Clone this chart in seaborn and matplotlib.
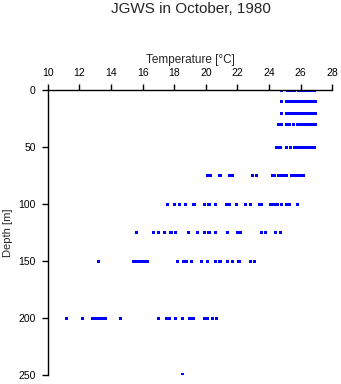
import matplotlib
matplotlib.use("Agg")
import matplotlib.pyplot as plt
import seaborn as sns
import pandas as pd

# Temperature [°C] readings at each depth [m]
depths = [0, 10, 20, 30, 50, 75, 100, 125, 150, 200, 250]
temp_0 = [24.78, 25.18, 25.39, 25.58, 25.85, 26.0, 26.15, 26.3, 26.45, 26.6, 26.75, 26.9]
temp_10 = [24.78, 25.1, 25.2, 25.4, 25.55, 25.75, 25.9, 26.05, 26.2, 26.35, 26.5, 26.65, 26.8, 26.95]
temp_20 = [24.78, 25.1, 25.25, 25.4, 25.5, 25.65, 25.8, 25.95, 26.1, 26.25, 26.4, 26.55, 26.7, 26.85, 26.95]
temp_30 = [24.6, 24.8, 25.1, 25.3, 25.55, 25.8, 25.95, 26.1, 26.25, 26.4, 26.55, 26.7, 26.85, 26.96]
temp_50 = [24.5, 24.75, 25.1, 25.35, 25.6, 25.75, 25.9, 26.05, 26.2, 26.35, 26.5, 26.65, 26.85]
temp_75 = [20.1, 20.3, 20.9, 21.5, 21.7, 22.95, 23.2, 24.2, 24.35, 24.6, 24.8, 24.9, 25.1,
           25.4, 25.6, 25.8, 26.0, 26.2]
temp_100 = [17.6, 18.0, 18.35, 18.7, 19.25, 19.9, 20.2, 20.6, 21.3, 21.5, 21.95, 22.5, 22.8,
            23.4, 23.55, 24.1, 24.3, 24.5, 24.8, 25.1, 25.3, 25.8]
temp_125 = [15.6, 16.7, 17.0, 17.4, 17.8, 18.1, 18.9, 19.5, 19.9, 20.2, 20.6, 21.4, 22.0,
            22.2, 23.5, 23.8, 24.4, 24.7]
temp_150 = [13.2, 15.4, 15.5, 15.7, 15.9, 16.1, 16.3, 18.2, 18.6, 18.8, 19.1, 19.7, 20.1,
            20.6, 20.9, 21.4, 21.7, 22.1, 22.8, 23.1]
temp_200 = [11.2, 12.2, 12.85, 13.05, 13.2, 13.4, 13.5, 13.65, 14.6, 17.0, 17.5, 17.7, 18.1,
            18.5, 19.0, 19.2, 19.9, 20.1, 20.4, 20.7]
temp_250 = [18.5]
temps_by_depth = [temp_0, temp_10, temp_20, temp_30, temp_50, temp_75, temp_100,
                  temp_125, temp_150, temp_200, temp_250]

x_ticks = [10, 12, 14, 16, 18, 20, 22, 24, 26, 28]
y_ticks = [0, 50, 100, 150, 200, 250]

rows = []
for d, ts in zip(depths, temps_by_depth):
    for t in ts:
        rows.append({"Temperature": t, "Depth": d})
df = pd.DataFrame(rows)

sns.set_style("ticks")
plt.rcParams["font.family"] = ["Liberation Sans", "DejaVu Sans"]

W, H = 341, 384
fig = plt.figure(figsize=(W / 100, H / 100), dpi=100)
ax = fig.add_axes([47.7 / W, 1 - 375 / H, (332.3 - 47.7) / W, (375 - 90.3) / H])

sns.scatterplot(data=df, x="Temperature", y="Depth", ax=ax, marker="s", s=5,
                color="#0000ff", edgecolor="none", linewidth=0)

ax.set_xlim(10, 28)
ax.set_ylim(250, 0)
ax.set_xticks(x_ticks)
ax.set_yticks(y_ticks)
ax.xaxis.tick_top()
ax.xaxis.set_label_position("top")
for s in ["right", "bottom"]:
    ax.spines[s].set_visible(False)
for s in ["top", "left"]:
    ax.spines[s].set_linewidth(1.0)
    ax.spines[s].set_color("black")
ax.tick_params(axis="both", length=4.2, width=1.0, color="black", labelsize=7.5,
               labelcolor="black", pad=4.5, direction="out")
ax.set_xlabel("Temperature [\u00b0C]", fontsize=8.5, labelpad=3.5)
ax.set_ylabel("Depth [m]", fontsize=8, labelpad=4)

fig.text(191 / W, 1 - 9 / H, "JGWS in October, 1980", ha="center", va="center",
         fontsize=11)

fig.savefig("out.png", dpi=100, facecolor="white")
